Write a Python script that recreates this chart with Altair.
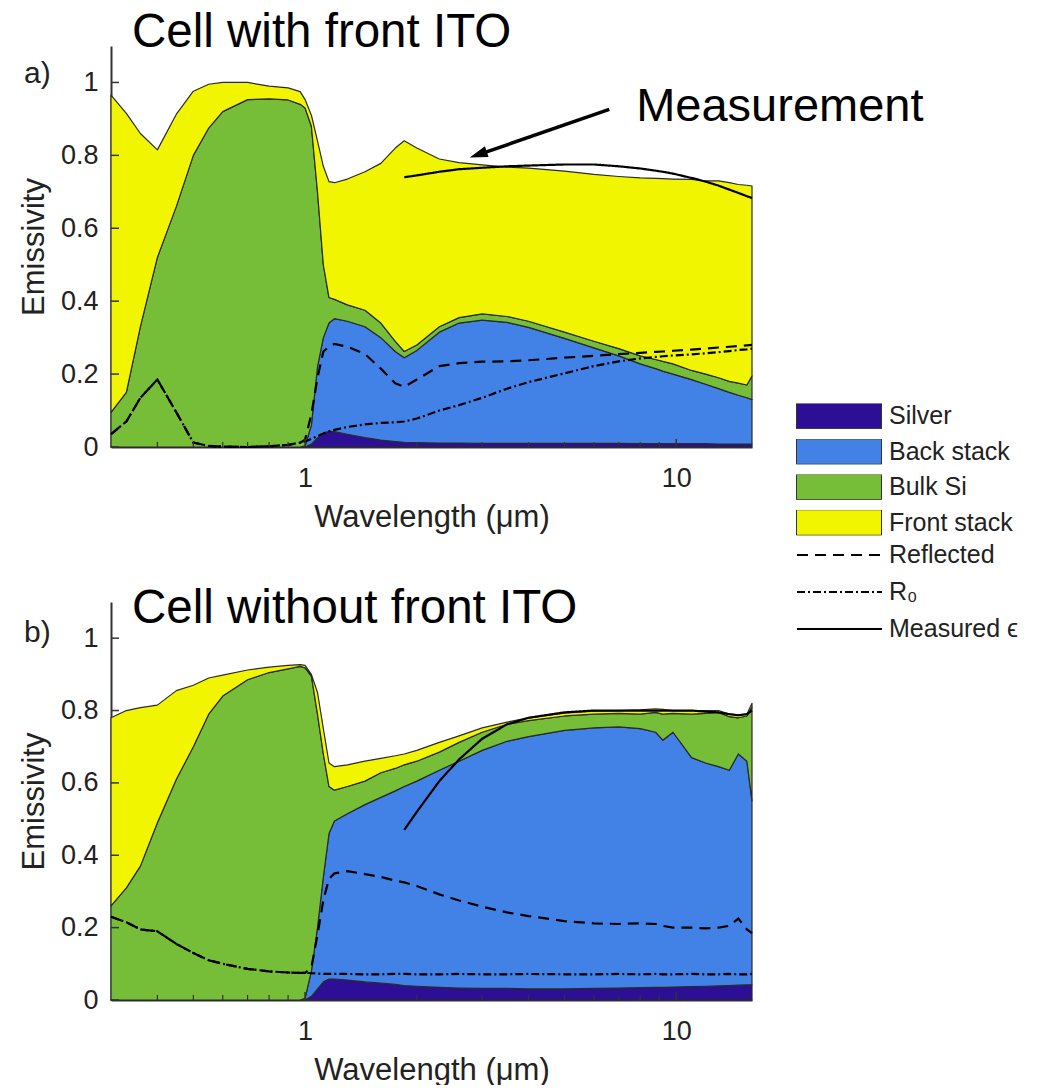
import altair as alt
import pandas as pd

FONT = "Liberation Sans"

# wavelength grid (µm)
WL = [0.30, 0.33, 0.36, 0.40, 0.45, 0.50, 0.55, 0.60, 0.70, 0.80, 0.90, 0.97, 1.00,
      1.04, 1.08, 1.12, 1.16, 1.20, 1.30, 1.45, 1.60, 1.75, 1.85,
      2.0, 2.3, 2.6, 3.0, 3.5, 4.0, 5.0, 6.0, 7.0, 8.0,
      8.8, 9.2, 9.8, 11, 12, 13, 13.9, 14.7, 15.5, 16]

# ---------- panel a: cell with front ITO (cumulative tops of stacked layers) ----------
A_SILVER = [0] * 13 + [0.008, 0.025, 0.038, 0.043, 0.042, 0.035, 0.026, 0.019, 0.015, 0.013,
                       0.012, 0.011, 0.011, 0.010, 0.010, 0.010, 0.010, 0.010, 0.010, 0.009,
                       0.009, 0.009, 0.009, 0.009, 0.009, 0.008, 0.008, 0.008, 0.008, 0.008]
A_BACK = [0] * 12 + [0.003,
                     0.06, 0.22, 0.30, 0.34, 0.352, 0.345, 0.33, 0.30, 0.262, 0.245,
                     0.265, 0.315, 0.34, 0.348, 0.342, 0.328, 0.298, 0.272, 0.25, 0.228,
                     0.215, 0.208, 0.20, 0.185, 0.172, 0.16, 0.15, 0.142, 0.135, 0.13]
A_BULK = [0.095, 0.15, 0.33, 0.52, 0.66, 0.80, 0.875, 0.92, 0.953, 0.955, 0.952, 0.94, 0.93,
          0.88, 0.70, 0.50, 0.41, 0.405, 0.39, 0.375, 0.34, 0.29, 0.262,
          0.28, 0.33, 0.355, 0.365, 0.358, 0.345, 0.315, 0.29, 0.27, 0.25,
          0.24, 0.235, 0.228, 0.21, 0.20, 0.19, 0.18, 0.175, 0.17, 0.195]
A_FRONT = [0.965, 0.915, 0.86, 0.815, 0.913, 0.976, 0.995, 1.0, 1.0, 0.99, 0.985, 0.975, 0.953,
           0.91, 0.84, 0.77, 0.728, 0.725, 0.735, 0.755, 0.778, 0.82, 0.84,
           0.82, 0.79, 0.78, 0.774, 0.768, 0.765, 0.757, 0.748, 0.742, 0.738,
           0.737, 0.736, 0.735, 0.734, 0.73, 0.73, 0.725, 0.72, 0.718, 0.716]
A_REFL = [0.035, 0.07, 0.135, 0.185, 0.095, 0.012, 0.003, 0.001, 0.0, 0.002, 0.006, 0.012, 0.02,
          0.09, 0.19, 0.262, 0.275, 0.283, 0.275, 0.255, 0.215, 0.175, 0.165,
          0.185, 0.222, 0.23, 0.234, 0.235, 0.238, 0.245, 0.25, 0.255, 0.258,
          0.261, 0.262, 0.264, 0.267, 0.27, 0.273, 0.275, 0.277, 0.279, 0.28]
A_R0 = [0.035, 0.07, 0.135, 0.185, 0.095, 0.012, 0.003, 0.001, 0.0, 0.002, 0.006, 0.012, 0.015,
        0.022, 0.03, 0.037, 0.043, 0.047, 0.055, 0.062, 0.066, 0.068, 0.07,
        0.078, 0.10, 0.115, 0.135, 0.16, 0.178, 0.202, 0.222, 0.235, 0.243,
        0.247, 0.249, 0.251, 0.254, 0.257, 0.26, 0.263, 0.266, 0.268, 0.27]
A_MEAS = [None] * 22 + [0.74,
                        0.745, 0.755, 0.762, 0.766, 0.77, 0.772, 0.775, 0.775, 0.77, 0.764,
                        0.758, 0.755, 0.75, 0.738, 0.728, 0.717, 0.706, 0.697, 0.688, 0.683]

# ---------- panel b: cell without front ITO ----------
B_SILVER = [0] * 13 + [0.01, 0.03, 0.05, 0.058, 0.058, 0.055, 0.05, 0.047, 0.043, 0.04,
                       0.038, 0.035, 0.033, 0.032, 0.032, 0.031, 0.031, 0.032, 0.033, 0.034,
                       0.035, 0.035, 0.036, 0.037, 0.038, 0.039, 0.04, 0.041, 0.042, 0.042]
B_BACK = [0] * 12 + [0.005,
                     0.08, 0.20, 0.34, 0.46, 0.495, 0.515, 0.54, 0.56, 0.578, 0.59,
                     0.605, 0.635, 0.66, 0.69, 0.715, 0.728, 0.745, 0.752, 0.755, 0.75,
                     0.74, 0.718, 0.74, 0.67, 0.655, 0.645, 0.635, 0.68, 0.66, 0.55]
B_BULK = [0.26, 0.31, 0.37, 0.49, 0.61, 0.70, 0.79, 0.84, 0.885, 0.905, 0.915, 0.922, 0.918,
          0.895, 0.79, 0.68, 0.59, 0.58, 0.59, 0.605, 0.628, 0.64, 0.65,
          0.66, 0.685, 0.712, 0.74, 0.762, 0.772, 0.785, 0.79, 0.792, 0.79,
          0.795, 0.79, 0.792, 0.79, 0.792, 0.795, 0.783, 0.78, 0.785, 0.81]
B_FRONT = [0.78, 0.80, 0.808, 0.815, 0.855, 0.87, 0.89, 0.898, 0.912, 0.92, 0.925, 0.927, 0.925,
           0.90, 0.85, 0.75, 0.655, 0.645, 0.65, 0.66, 0.668, 0.675, 0.68,
           0.69, 0.712, 0.73, 0.752, 0.768, 0.78, 0.793, 0.798, 0.80, 0.802,
           0.805, 0.803, 0.80, 0.80, 0.80, 0.80, 0.79, 0.788, 0.79, 0.82]
B_R0 = [0.23, 0.215, 0.195, 0.19, 0.155, 0.13, 0.11, 0.10, 0.086, 0.079, 0.076, 0.075, 0.075,
        0.074, 0.073, 0.072, 0.072, 0.072, 0.072, 0.071, 0.071, 0.072, 0.072,
        0.071, 0.071, 0.072, 0.071, 0.071, 0.072, 0.071, 0.071, 0.072, 0.071,
        0.072, 0.071, 0.071, 0.072, 0.071, 0.071, 0.072, 0.071, 0.071, 0.072]
B_REFL = [0.23, 0.215, 0.195, 0.19, 0.155, 0.13, 0.11, 0.10, 0.086, 0.079, 0.076, 0.075, 0.075,
          0.09, 0.18, 0.276, 0.335, 0.35, 0.356, 0.348, 0.34, 0.33, 0.325,
          0.315, 0.292, 0.275, 0.258, 0.242, 0.232, 0.218, 0.212, 0.21, 0.212,
          0.21, 0.205, 0.2, 0.2, 0.198, 0.2, 0.205, 0.225, 0.195, 0.185]
B_MEAS = [None] * 22 + [0.47,
                        0.52, 0.605, 0.665, 0.722, 0.762, 0.78, 0.795, 0.80, 0.80, 0.80,
                        0.80, 0.80, 0.80, 0.80, 0.797, 0.795, 0.79, 0.787, 0.79, 0.80]

LAYERS = ["Silver", "Back stack", "Bulk Si", "Front stack"]
COLORS = ["#2D0F96", "#4282E6", "#76BE38", "#F2F500"]
LINES = ["Reflected", "R₀", "Measured ϵ"]
DASHES = [[11, 7], [8, 3, 2, 3], [1, 0]]

Y_TICKS = [0, 0.2, 0.4, 0.6, 0.8, 1.0]
X_MAJOR = [1, 10]
X_MINOR = [0.4, 0.5, 0.6, 0.7, 0.8, 0.9, 2, 3, 4, 5, 6, 7, 8, 9]

# annotation anchor points (data coordinates)
ANN_TEXT = ("Measurement", 7.80, 0.934)
ARROW_START = (6.6, 0.926)
ARROW_END = (3.013, 0.806)
ARROW_TIP = (2.777, 0.794)


def area_df(tops):
    rows = []
    prev = [0.0] * len(WL)
    for name, top in zip(LAYERS, tops):
        for w, lo, hi in zip(WL, prev, top):
            rows.append({"wl": w, "v": hi, "v2": lo, "layer": name})
        prev = top
    return pd.DataFrame(rows)


def line_df(series):
    rows = []
    for name, vals in zip(LINES, series):
        for w, v in zip(WL, vals):
            if v is not None:
                rows.append({"wl": w, "v": v, "series": name})
    return pd.DataFrame(rows)


W = 641


def panel(tops, series, title, title_offset, tag, tag_y, height, show_legend, annotate):
    xenc = alt.X("wl:Q",
                 scale=alt.Scale(type="log", domain=[0.3, 16], nice=False),
                 axis=alt.Axis(values=X_MAJOR, format="~g", title="Wavelength (μm)",
                               labelPadding=18, titlePadding=11))
    yenc = alt.Y("v:Q",
                 scale=alt.Scale(domain=[0, 1.1], nice=False),
                 axis=alt.Axis(values=Y_TICKS, format="~g", title="Emissivity",
                               labelPadding=13, titlePadding=10))
    if show_legend:
        fill_legend = alt.Legend(title=None, orient="none", legendX=685, legendY=357.5,
                                 symbolType="M-1,-0.3H1V0.3H-1Z", symbolSize=7225,
                                 symbolStrokeColor="#333", symbolStrokeWidth=1,
                                 symbolOpacity=1, clipHeight=25, rowPadding=9.5,
                                 labelFont=FONT, labelFontSize=25, labelColor="#222",
                                 labelOffset=7, labelLimit=300, padding=0)
        dash_legend = alt.Legend(title=None, orient="none", legendX=685, legendY=496.5,
                                 symbolType="stroke", symbolSize=7225,
                                 symbolStrokeColor="black", symbolStrokeWidth=2,
                                 clipHeight=25, rowPadding=11,
                                 labelFont=FONT, labelFontSize=25, labelColor="#222",
                                 labelOffset=6, labelLimit=300, padding=0)
    else:
        fill_legend = None
        dash_legend = None

    areas = alt.Chart(area_df(tops)).mark_area(
        stroke="#2a2a2a", strokeWidth=1.2, strokeJoin="round", opacity=1
    ).encode(
        x=xenc, y=yenc, y2="v2:Q",
        fill=alt.Fill("layer:N", scale=alt.Scale(domain=LAYERS, range=COLORS),
                      legend=fill_legend),
    )
    lines = alt.Chart(line_df(series)).mark_line(color="black", strokeWidth=2.2).encode(
        x=xenc, y=yenc,
        strokeDash=alt.StrokeDash("series:N", scale=alt.Scale(domain=LINES, range=DASHES),
                                  legend=dash_legend),
    )
    yticks = alt.Chart(pd.DataFrame({"v": Y_TICKS})).mark_rule(
        color="#333", strokeWidth=1.5).encode(y=yenc, x=alt.value(0), x2=alt.value(8))
    xmajor = alt.Chart(pd.DataFrame({"wl": X_MAJOR})).mark_rule(
        color="#333", strokeWidth=1.5).encode(x=xenc, y=alt.value(height),
                                              y2=alt.value(height - 8))
    xminor = alt.Chart(pd.DataFrame({"wl": X_MINOR})).mark_rule(
        color="#333", strokeWidth=1.2).encode(x=xenc, y=alt.value(height),
                                              y2=alt.value(height - 5))
    tagtext = alt.Chart(pd.DataFrame({"t": [tag]})).mark_text(
        align="left", baseline="middle", fontSize=30, font=FONT, color="#222"
    ).encode(text="t:N", x=alt.value(-87), y=alt.value(tag_y))

    layers = [areas, lines, yticks, xmajor, xminor, tagtext]

    if annotate:
        t, tx, ty = ANN_TEXT
        ann = alt.Chart(pd.DataFrame({"wl": [tx], "v": [ty], "t": [t]})).mark_text(
            align="left", baseline="middle", fontSize=47, font=FONT, color="black"
        ).encode(x=xenc, y=yenc, text="t:N")
        arrow = alt.Chart(pd.DataFrame({"wl": [ARROW_START[0], ARROW_END[0]],
                                        "v": [ARROW_START[1], ARROW_END[1]]})).mark_line(
            color="black", strokeWidth=3.5).encode(x=xenc, y=yenc)
        head = alt.Chart(pd.DataFrame({"wl": [ARROW_TIP[0]], "v": [ARROW_TIP[1]]})).mark_point(
            shape="M0,0L0.5,1.6L-0.5,1.6Z", filled=True, color="black", opacity=1,
            size=506, angle=251, strokeWidth=0
        ).encode(x=xenc, y=yenc)
        layers += [ann, arrow, head]

    return alt.layer(*layers).properties(
        width=W, height=height,
        title=alt.TitleParams(text=title, anchor="start", frame="group", dx=21,
                              offset=title_offset, fontSize=47.5, font=FONT,
                              fontWeight="normal", color="black", baseline="alphabetic"),
    )


pa = panel([A_SILVER, A_BACK, A_BULK, A_FRONT], [A_REFL, A_R0, A_MEAS],
           "Cell with front ITO", -48, "a)", 28, 401, True, True)
pb = panel([B_SILVER, B_BACK, B_BULK, B_FRONT], [B_REFL, B_R0, B_MEAS],
           "Cell without front ITO", -68, "b)", 31, 398, False, False)

chart = alt.vconcat(pa, pb, spacing=155, bounds="flush").resolve_scale(
    fill="independent", strokeDash="independent"
).resolve_legend(
    fill="independent", strokeDash="independent"
).properties(
    padding={"left": 18, "top": 8, "right": 0, "bottom": 0}
).configure_view(strokeWidth=0).configure_axis(
    labelFont=FONT, titleFont=FONT, labelFontSize=27, titleFontSize=31,
    labelColor="#222", titleColor="#222", titleFontWeight="normal",
    domainColor="#333", domainWidth=2, grid=False, ticks=False, tickSize=0,
)

chart.save("out.html", embed_options={"renderer": "svg", "actions": False})
